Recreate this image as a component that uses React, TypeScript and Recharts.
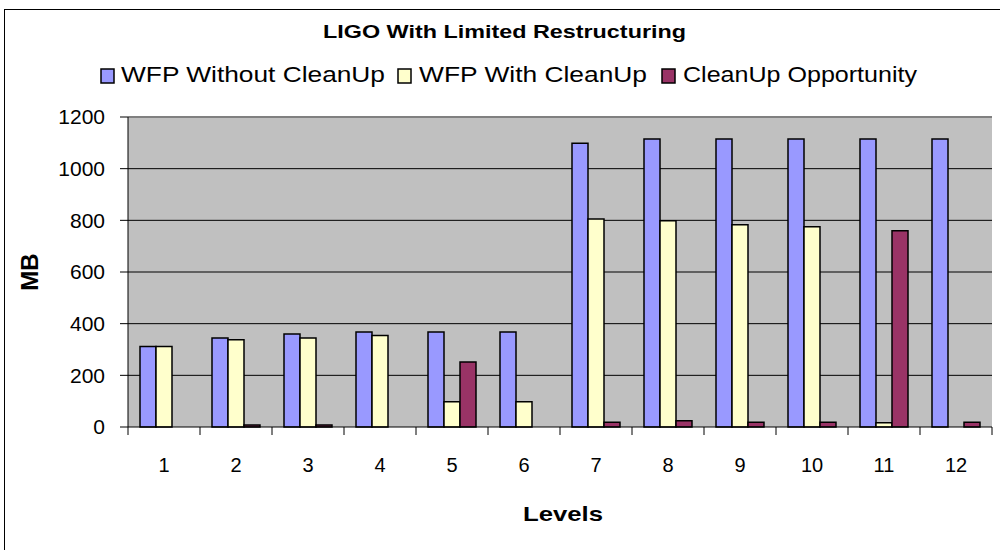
import React from 'react';
import {
  BarChart,
  Bar,
  XAxis,
  YAxis,
  CartesianGrid,
  ReferenceLine,
} from 'recharts';

const levels = ['1', '2', '3', '4', '5', '6', '7', '8', '9', '10', '11', '12'];
const withoutCleanUp = [312, 345, 360, 368, 368, 368, 1098, 1115, 1115, 1115, 1115, 1115];
const withCleanUp = [312, 338, 345, 354, 98, 98, 805, 798, 783, 775, 16, null];
const cleanUpOpportunity = [null, 8, 8, null, 252, null, 18, 24, 18, 18, 760, 18];
const yTicks = [0, 200, 400, 600, 800, 1000, 1200];

const data = levels.map((level, i) => ({
  level,
  without: withoutCleanUp[i],
  with: withCleanUp[i],
  opportunity: cleanUpOpportunity[i],
}));

const series = [
  { key: 'without', name: 'WFP Without CleanUp', color: '#9999FF', box: 101, text: 121, len: 264 },
  { key: 'with', name: 'WFP With CleanUp', color: '#FFFFCC', box: 398, text: 419, len: 228 },
  { key: 'opportunity', name: 'CleanUp Opportunity', color: '#993366', box: 662, text: 683, len: 234 },
];

const FONT = '"Liberation Sans", Arial, sans-serif';
const PLOT_LEFT = 128;
const PLOT_RIGHT = 992;
const HALF_BAND = (PLOT_RIGHT - PLOT_LEFT) / levels.length / 2;

function LevelTick(props: any) {
  const { x, y, payload, index } = props;
  return (
    <g>
      <line x1={x - HALF_BAND} y1={y} x2={x - HALF_BAND} y2={y + 8} stroke="#000" />
      {index === levels.length - 1 && (
        <line x1={x + HALF_BAND} y1={y} x2={x + HALF_BAND} y2={y + 8} stroke="#000" />
      )}
      <text x={x} y={y + 45} textAnchor="middle" fontSize={20} fontFamily={FONT} fill="#000">
        {payload.value}
      </text>
    </g>
  );
}

// title, legend and axis titles, stretched like the original export
function Labels() {
  return (
    <svg width={1000} height={550} style={{ position: 'absolute', left: 0, top: 0, pointerEvents: 'none' }}>
      <text x={323} y={38} fontSize={18} fontWeight="bold" fontFamily={FONT} textLength={363} lengthAdjust="spacingAndGlyphs">
        LIGO With Limited Restructuring
      </text>
      {series.map((s) => (
        <g key={s.key}>
          <rect x={s.box} y={69} width={13} height={14} fill={s.color} stroke="#000" strokeWidth={1.5} />
          <text x={s.text} y={82} fontSize={22} fontFamily={FONT} textLength={s.len} lengthAdjust="spacingAndGlyphs">
            {s.name}
          </text>
        </g>
      ))}
      <text x={523} y={521} fontSize={21} fontWeight="bold" fontFamily={FONT} textLength={80} lengthAdjust="spacingAndGlyphs">
        Levels
      </text>
      <text
        x={0}
        y={0}
        transform="translate(38 272) rotate(-90)"
        textAnchor="middle"
        fontSize={24}
        fontWeight="bold"
        fontFamily={FONT}
      >
        MB
      </text>
    </svg>
  );
}

export default function App() {
  return (
    <div style={{ position: 'absolute', left: 0, top: 0, width: 1000, height: 550, background: '#fff', overflow: 'hidden' }}>
      <div style={{ position: 'absolute', left: 4, top: 9, width: 1000, height: 560, borderLeft: '1px solid #000', borderTop: '1px solid #000' }} />
      <BarChart
        width={1000}
        height={550}
        data={data}
        margin={{ top: 117, right: 8, bottom: 63, left: 48 }}
        barCategoryGap="16.67%"
        barGap={0}
        style={{ position: 'absolute', left: 0, top: 0 }}
      >
        <CartesianGrid fill="#C0C0C0" stroke="#000" vertical={false} horizontalValues={[200, 400, 600, 800, 1000]} />
        <ReferenceLine y={1200} stroke="#808080" strokeWidth={2} />
        <XAxis
          dataKey="level"
          height={60}
          tickLine={false}
          tickSize={0}
          tickMargin={0}
          axisLine={{ stroke: '#000' }}
          tick={<LevelTick />}
          interval={0}
        />
        <YAxis
          width={80}
          domain={[0, 1200]}
          ticks={yTicks}
          interval={0}
          tickSize={8}
          tickMargin={15}
          tickLine={{ stroke: '#000' }}
          axisLine={{ stroke: '#000' }}
          tick={{ fontSize: 21, fontFamily: FONT, fill: '#000' }}
        />
        <YAxis yAxisId="r" orientation="right" width={0} tick={false} tickLine={false} axisLine={{ stroke: '#808080', strokeWidth: 2 }} />
        {series.map((s) => (
          <Bar
            key={s.key}
            dataKey={s.key}
            name={s.name}
            fill={s.color}
            stroke="#000"
            strokeWidth={1.5}
            isAnimationActive={false}
          />
        ))}
      </BarChart>
      <Labels />
    </div>
  );
}
